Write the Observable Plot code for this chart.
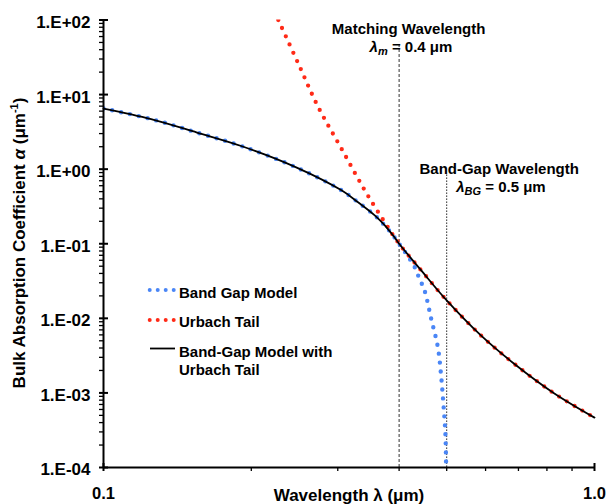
<!DOCTYPE html>
<html><head><meta charset="utf-8">
<script src="https://cdn.jsdelivr.net/npm/d3@7"></script>
<script src="https://cdn.jsdelivr.net/npm/@observablehq/plot@0.6"></script>
<style>body{margin:0;background:#fff} svg{display:block}</style>
</head><body><div id="chart"></div>
<script>
// Band gap model (blue dotted)
const bandGapLambda = [0.1, 0.125, 0.155, 0.1914, 0.2475, 0.3053, 0.33, 0.3568, 0.37, 0.38, 0.39, 0.4, 0.415, 0.43, 0.44, 0.4506, 0.4649, 0.4797, 0.487, 0.4923, 0.4969, 0.4985];
const bandGapAlpha  = [6.5, 4.7, 3.1, 2.03, 1.05, 0.52, 0.36, 0.24, 0.19, 0.156, 0.126, 0.1, 0.071, 0.049, 0.034, 0.0237, 0.0099, 0.0041, 0.00172, 0.00072, 0.00029, 0.000118];
// Urbach tail (red dotted)
const urbachLambda = [0.227, 0.2494, 0.2738, 0.3053, 0.3405, 0.3737, 0.4, 0.4437, 0.5, 0.587, 0.686, 0.827, 1.0];
const urbachAlpha  = [100, 25.9, 6.78, 1.88, 0.52, 0.195, 0.1, 0.0439, 0.0174, 0.0059, 0.00246, 0.00099, 0.000466];
// matching point: combined model switches from band gap to Urbach here
const matchLambda = 0.4;
// axis ticks
const yTicks = [1e-4, 1e-3, 1e-2, 1e-1, 1e0, 1e1, 1e2];
const yTickLabels = ["1.E-04", "1.E-03", "1.E-02", "1.E-01", "1.E+00", "1.E+01", "1.E+02"];
const xTicks = [0.1, 1.0];
const xTickLabels = ["0.1", "1.0"];
const xMinor = [0.2, 0.3, 0.4, 0.5, 0.6, 0.7, 0.8, 0.9];
const yMinorMult = [2, 3, 4, 5, 6, 7, 8, 9];
// reference wavelengths
const markerLambda = [0.4, 0.5];
const markerTop = [50, 0.87];

const FONT = "Liberation Sans, Arial, Helvetica, sans-serif";
const BLUE = "#4a86f6";
const RED = "#ff2a17";

const bandGap = bandGapLambda.map((l, i) => ({l, a: bandGapAlpha[i]}));
const urbach = urbachLambda.map((l, i) => ({l, a: urbachAlpha[i]}));
const combined = bandGap.filter(d => d.l <= matchLambda).concat(urbach.filter(d => d.l > matchLambda));
const yMinor = yTicks.slice(0, -1).flatMap(t => yMinorMult.map(m => m * t));

const plot = Plot.plot({
  width: 609, height: 504,
  marginLeft: 103, marginRight: 15, marginTop: 19.5, marginBottom: 37,
  style: {fontFamily: FONT, background: "#fff", overflow: "visible"},
  x: {type: "log", domain: [0.1, 1], axis: null},
  y: {type: "log", domain: [1e-4, 1e2], axis: null},
  marks: [
    // reference lines
    Plot.ruleX([0], {x: () => markerLambda[0], y1: 1e-4, y2: markerTop[0], stroke: "#333", strokeWidth: 1, strokeDasharray: "3 2"}),
    Plot.ruleX([0], {x: () => markerLambda[1], y1: 1e-4, y2: markerTop[1], stroke: "#333", strokeWidth: 1, strokeDasharray: "1.6 1.4"}),
    // series
    Plot.line(bandGap, {x: "l", y: "a", stroke: BLUE, strokeWidth: 4.4, strokeDasharray: "0 9", strokeLinecap: "round", curve: "catmull-rom", clip: true}),
    Plot.line(urbach, {x: "l", y: "a", stroke: RED, strokeWidth: 4.3, strokeDasharray: "0 9", strokeLinecap: "round", curve: "catmull-rom", clip: true}),
    Plot.line(combined, {x: "l", y: "a", stroke: "#000", strokeWidth: 1.8, curve: "catmull-rom"}),
    // axes lines
    Plot.ruleX([0.1], {y1: 1e-4, y2: 1e2, stroke: "#000", strokeWidth: 2}),
    Plot.ruleY([1e-4], {x1: 0.1, x2: 1, stroke: "#000", strokeWidth: 2}),
    // y ticks
    Plot.ruleY(yTicks, {y: d => d, x1: 0.1, x2: 0.1, insetLeft: -4, insetRight: -5, stroke: "#000", strokeWidth: 2}),
    Plot.ruleY(yMinor, {y: d => d, x1: 0.1, x2: 0.1, insetLeft: -4, stroke: "#000", strokeWidth: 1.3}),
    // x ticks
    Plot.ruleX(xTicks, {x: d => d, y1: 1e-4, y2: 1e-4, insetTop: -4, insetBottom: -4, stroke: "#000", strokeWidth: 2}),
    Plot.ruleX(xMinor, {x: d => d, y1: 1e-4, y2: 1e-4, insetBottom: -4, stroke: "#000", strokeWidth: 1.3}),
    // tick labels
    Plot.text(yTicks, {y: d => d, text: (d, i) => yTickLabels[i], frameAnchor: "left", textAnchor: "end", lineAnchor: "middle", dx: -13, dy: 2.5, fontSize: 17, fontWeight: "bold", fill: "#000"}),
    Plot.text(xTicks, {x: d => d, text: (d, i) => xTickLabels[i], frameAnchor: "bottom", lineAnchor: "middle", dy: 26, fontSize: 16.5, fontWeight: "bold", fill: "#000"}),
    Plot.text(["Wavelength λ (μm)"], {frameAnchor: "bottom", lineAnchor: "bottom", dy: 33.5, fontSize: 17, fontWeight: "bold", fill: "#000"})
  ]
});
document.getElementById("chart").appendChild(plot);

const svg = d3.select(plot);
const xs = plot.scale("x");
const g = svg.append("g").attr("font-family", FONT).attr("font-weight", "bold").attr("fill", "#000").attr("text-anchor", "start");

// y-axis title
const yt = g.append("text").attr("transform", "translate(25,243) rotate(-90)").attr("text-anchor", "middle").attr("font-size", 17);
yt.append("tspan").text("Bulk Absorption Coefficient ");
yt.append("tspan").attr("font-style", "italic").text("α");
yt.append("tspan").text(" (μm");
yt.append("tspan").attr("font-size", 11).attr("dy", -7).text("-1");
yt.append("tspan").attr("dy", 7).text(")");

// annotations
const xm = xs.apply(markerLambda[0]);
const xb = xs.apply(markerLambda[1]);
g.append("text").attr("x", xm + 10).attr("y", 34).attr("text-anchor", "middle").attr("font-size", 15).text("Matching Wavelength");
const t1 = g.append("text").attr("x", xm - 29).attr("y", 52).attr("font-size", 15);
t1.append("tspan").attr("font-style", "italic").text("λ");
t1.append("tspan").attr("font-style", "italic").attr("font-size", 11).attr("dy", 3).text("m");
t1.append("tspan").attr("dy", -3).text(" = 0.4 μm");

g.append("text").attr("x", xb + 53).attr("y", 174).attr("text-anchor", "middle").attr("font-size", 15).text("Band-Gap Wavelength");
const t2 = g.append("text").attr("x", xb + 10).attr("y", 192).attr("font-size", 15);
t2.append("tspan").attr("font-style", "italic").text("λ");
t2.append("tspan").attr("font-style", "italic").attr("font-size", 11).attr("dy", 3).text("BG");
t2.append("tspan").attr("dy", -3).text(" = 0.5 μm");

// legend
const lg = svg.append("g").attr("font-family", FONT).attr("font-weight", "bold").attr("font-size", 15).attr("text-anchor", "start").attr("fill", "#000");
lg.append("line").attr("x1", 149.7).attr("x2", 173.8).attr("y1", 290).attr("y2", 290).attr("stroke", BLUE).attr("stroke-width", 4).attr("stroke-dasharray", "0 8").attr("stroke-linecap", "round");
lg.append("text").attr("x", 179).attr("y", 298).text("Band Gap Model");
lg.append("line").attr("x1", 149.7).attr("x2", 173.8).attr("y1", 320).attr("y2", 320).attr("stroke", RED).attr("stroke-width", 4).attr("stroke-dasharray", "0 8").attr("stroke-linecap", "round");
lg.append("text").attr("x", 179).attr("y", 327).text("Urbach Tail");
lg.append("line").attr("x1", 150).attr("x2", 175).attr("y1", 348.5).attr("y2", 348.5).attr("stroke", "#000").attr("stroke-width", 1.8);
lg.append("text").attr("x", 179).attr("y", 356.5).text("Band-Gap Model with");
lg.append("text").attr("x", 179).attr("y", 375).text("Urbach Tail");
</script>
</body></html>
